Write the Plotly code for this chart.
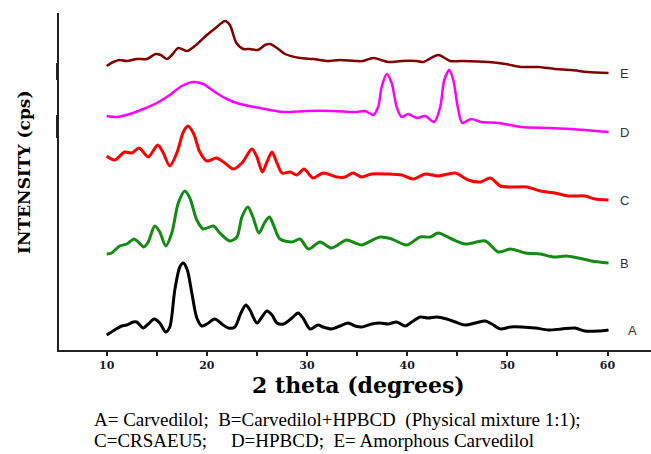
import plotly.graph_objects as go

# ---- data (2θ in degrees, intensity in arbitrary stacked units) ----
a_x = [10.0,10.8,11.5,12.0,12.65,13.0,13.65,14.15,14.75,15.3,15.9,16.3,16.8,17.3,17.65,18.05,18.5,19.0,19.5,20.0,20.8,21.5,22.15,22.8,23.4,23.9,24.3,25.0,25.5,26.0,26.5,27.0,27.65,28.5,29.1,29.6,30.3,31.1,31.6,32.45,33.3,34.1,34.8,35.45,36.45,37.3,38.1,38.95,39.8,40.45,41.3,42.1,42.95,43.95,44.8,45.8,46.8,47.8,48.45,49.3,50.3,51.4,52.8,54.1,55.4,56.75,57.75,59.1,60.1]
a_y = [16,21,25,26,29,29,23,27,32,28,19,24,61,84,88,81,58,33,25,27,32,27,23,24,38,46,41,28,34,40,36,28,27,33,38,33,22,26,24,22,25,28,25,24,27,28,27,29,25,29,34,33,34,32,29,26,28,30,27,22,24,24,23,21,22,23,20,20,21]

b_x = [10.0,10.5,11.3,12.0,12.75,13.15,13.7,14.15,14.8,15.3,15.9,16.5,17.15,17.8,18.3,19.0,19.65,20.65,21.3,22.3,23.0,23.5,24.1,24.6,25.2,25.8,26.25,26.65,27.3,28.5,29.3,30.15,31.3,32.45,33.95,34.8,35.45,37.3,38.45,39.95,41.3,42.3,43.1,44.45,45.8,47.8,49.1,50.3,51.8,53.3,54.6,55.9,57.1,58.4,60.1]
b_y = [97,98,105,107,112,109,104,109,125,119,105,118,148,160,153,131,122,125,118,110,114,134,144,134,118,129,134,126,112,109,112,102,109,103,111,108,106,114,112,106,114,114,118,112,107,110,99,102,98,97,94,95,93,90,88]

c_x = [10.0,10.8,11.8,12.5,13.25,14.15,15.1,15.6,16.3,17.0,17.65,18.1,18.65,19.3,20.0,20.95,21.8,22.65,23.5,24.5,25.0,25.55,26.0,26.5,27.0,27.5,28.3,29.0,29.7,30.6,31.6,32.95,33.8,34.6,35.45,36.45,37.95,39.45,40.6,41.8,43.1,44.8,46.1,47.3,48.3,49.3,50.45,51.95,53.3,54.75,56.1,57.75,58.75,60.1]
c_y = [195,191,199,198,203,194,206,199,185,198,219,225,218,199,190,193,188,182,188,202,194,179,189,199,188,178,179,176,182,173,178,174,174,178,174,177,177,176,172,177,175,178,171,169,173,165,164,164,160,158,155,155,152,151]

d_x = [10.0,11.0,12.3,13.65,15.0,16.3,17.5,18.65,19.65,20.8,22.0,23.3,25.3,27.6,30.0,32.6,34.8,35.8,36.6,37.1,37.45,37.95,38.45,38.95,39.45,40.1,40.95,41.8,42.7,43.3,43.7,44.2,44.6,45.05,45.5,46.35,47.4,49.1,51.4,54.1,56.4,60.1]
d_y = [235,234,237,242,248,256,265,269,267,259,252,247,243,239,240,240,239,240,236,244,264,277,268,244,234,237,233,235,229,244,271,281,271,244,228,232,229,228,224,223,222,219]

e_x = [10.0,10.65,11.3,12.0,13.0,14.0,14.9,15.4,16.0,16.5,17.15,18.0,18.8,20.0,21.0,21.8,22.3,22.95,23.65,24.3,25.1,25.8,26.3,27.0,27.8,29.3,30.6,31.95,33.3,34.8,35.6,36.6,38.1,39.45,40.95,41.6,43.1,44.3,45.45,48.1,49.8,51.4,53.1,54.75,56.4,58.05,60.1]
e_y = [285,289,291,290,292,292,297,296,292,296,303,300,305,316,324,330,326,308,302,302,301,306,307,303,297,293,292,290,291,290,290,293,289,290,290,289,296,290,290,289,287,284,284,282,281,279,278]

labels = ["A", "B", "C", "D", "E"]
tick_vals = [10, 20, 30, 40, 50, 60]
tick_text = ["10", "20", "30", "40", "50", "60"]

x_title = "2 theta (degrees)"
y_title = "INTENSITY (cps)"
caption1 = "A= Carvedilol;  B=Carvedilol+HPBCD  (Physical mixture 1:1);"
caption2 = "C=CRSAEU5;     D=HPBCD;  E= Amorphous Carvedilol"

series = [
    (a_x, a_y, "#000000", 3),
    (b_x, b_y, "#158a15", 3),
    (c_x, c_y, "#ff0000", 3),
    (d_x, d_y, "#ff00ff", 2.5),
    (e_x, e_y, "#800000", 2.5),
]

# ---- geometry (page body margin removed via post_script) ----
OFF = 0
W, H = 651, 454
ML, MR, MT, MB = 59, 0, 13, 104
PW = W - ML - MR
PH = H - MT - MB


def px(page_x):
    return (page_x - OFF - ML) / PW


def py(page_y):
    return (H - MB - (page_y - OFF)) / PH


fig = go.Figure()
for (xs, ys, col, w), lab in zip(series, labels):
    fig.add_trace(go.Scatter(x=xs, y=ys, mode="lines", name=lab,
                             line=dict(color=col, width=w, shape="spline", smoothing=0.8),
                             showlegend=False, hoverinfo="skip"))
    fig.add_annotation(x=xs[-1], y=ys[-1], xref="x", yref="y", text=lab,
                       showarrow=False, xanchor="left", yanchor="middle",
                       xshift=(17 if lab == "A" else 9),
                       font=dict(family="Liberation Sans, Arial", size=13, color="#333333"))

fig.update_layout(
    width=W, height=H,
    margin=dict(l=ML, r=MR, t=MT, b=MB),
    paper_bgcolor="white", plot_bgcolor="white",
    xaxis=dict(range=[5.24, 64.34], showgrid=False, zeroline=False,
               showline=True, linecolor="#222222", linewidth=2,
               tickmode="array", tickvals=tick_vals, ticktext=tick_text,
               ticks="outside", ticklen=4, tickwidth=1.5, tickcolor="#222222",
               minor=dict(dtick=5, tick0=0, ticks="outside", ticklen=4, tickwidth=1.5, tickcolor="#222222"),
               tickfont=dict(family="DejaVu Serif", size=11, color="#1a1a2a", weight="bold")),
    yaxis=dict(range=[1, 338], showgrid=False, zeroline=False,
               showline=True, linecolor="#222222", linewidth=2,
               showticklabels=False, ticks=""),
)

# thicker segments seen on the left axis line
for y0, y1 in [(63, 80), (115, 138)]:
    fig.add_shape(type="line", xref="paper", yref="paper",
                  x0=px(57.5), x1=px(57.5), y0=py(y0), y1=py(y1),
                  line=dict(color="#222222", width=3))

fig.add_annotation(xref="paper", yref="paper", x=px(358), y=py(385),
                   text="<b>" + x_title + "</b>", showarrow=False, xanchor="center", yanchor="middle",
                   font=dict(family="DejaVu Serif", size=22, color="#000000"))
fig.add_annotation(xref="paper", yref="paper", x=px(24), y=py(173),
                   text="<b>" + y_title + "</b>", showarrow=False, textangle=-90,
                   xanchor="center", yanchor="middle",
                   font=dict(family="DejaVu Serif", size=17, color="#000000"))
fig.add_annotation(xref="paper", yref="paper", x=px(92), y=py(420),
                   text=caption1, showarrow=False, xanchor="left", yanchor="middle",
                   font=dict(family="Liberation Serif, Times New Roman", size=19, color="#000000"))
fig.add_annotation(xref="paper", yref="paper", x=px(92), y=py(441),
                   text=caption2, showarrow=False, xanchor="left", yanchor="middle",
                   font=dict(family="Liberation Serif, Times New Roman", size=19, color="#000000"))

fig.write_html("out.html",
               config={"displayModeBar": False},
               post_script="document.body.style.margin='0';document.body.style.overflow='hidden';")
